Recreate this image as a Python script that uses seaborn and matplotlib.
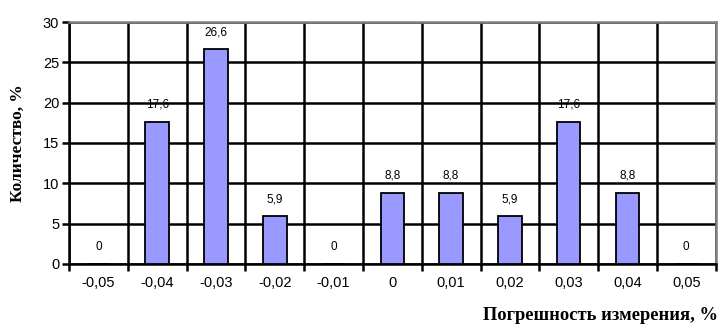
import numpy as np
import pandas as pd
import seaborn as sns
import matplotlib.pyplot as plt
from matplotlib.ticker import FixedLocator

categories = ['-0,05', '-0,04', '-0,03', '-0,02', '-0,01', '0',
              '0,01', '0,02', '0,03', '0,04', '0,05']
values = [0, 17.6, 26.6, 5.9, 0, 8.8, 8.8, 5.9, 17.6, 8.8, 0]
value_labels = ['0', '17,6', '26,6', '5,9', '0', '8,8',
                '8,8', '5,9', '17,6', '8,8', '0']

df = pd.DataFrame({'err': categories, 'count': values})

sns.set_style('white')
plt.rcParams['font.family'] = ['Liberation Sans', 'DejaVu Sans']
plt.rcParams['text.color'] = 'black'
plt.rcParams['axes.labelcolor'] = 'black'
plt.rcParams['xtick.color'] = 'black'
plt.rcParams['ytick.color'] = 'black'

fig = plt.figure(figsize=(7.2, 3.34), dpi=100)
ax = fig.add_axes([0.0958, 0.21, 0.8982, 0.724])

sns.barplot(data=df, x='err', y='count', order=categories, color='#9999FF',
            saturation=1, edgecolor='black', linewidth=1.3, width=0.4, ax=ax,
            zorder=3)

# подписи значений над столбцами
for i, (v, lab) in enumerate(zip(values, value_labels)):
    ax.annotate(lab, (i, v), xytext=(0, 8), textcoords='offset points',
                ha='center', va='bottom', fontsize=8.5)

ax.set_xlim(-0.5, len(categories) - 0.5)
ax.set_ylim(0, 30)
ax.set_yticks(range(0, 31, 5))
ax.xaxis.set_minor_locator(FixedLocator(np.arange(-0.5, len(categories), 1.0)))
ax.tick_params(axis='x', which='major', length=0, pad=9, labelsize=10.5)
ax.tick_params(axis='x', which='minor', length=5, width=1.8, direction='out',
               color='black', bottom=True)
ax.tick_params(axis='y', length=5, width=1.8, direction='out', color='black',
               left=True, labelsize=10.5, pad=2)

ax.grid(axis='y', which='major', color='black', linewidth=1.8, zorder=0)
ax.grid(axis='x', which='minor', color='black', linewidth=1.8, zorder=0)
ax.grid(axis='x', which='major', visible=False)
ax.set_axisbelow(True)

for side in ['left', 'bottom']:
    ax.spines[side].set_color('black')
    ax.spines[side].set_linewidth(1.8)
for side in ['top', 'right']:
    ax.spines[side].set_color('#808080')
    ax.spines[side].set_linewidth(1.8)

ax.set_ylabel('Количество, %', fontsize=12.5, fontweight='bold',
              family=['Liberation Serif'], labelpad=12)
ax.set_xlabel('')
fig.text(0.997, 0.03, 'Погрешность измерения, %', ha='right', va='bottom',
         fontsize=13.3, fontweight='bold', family=['Liberation Serif'])

fig.savefig('out.png', dpi=100)
